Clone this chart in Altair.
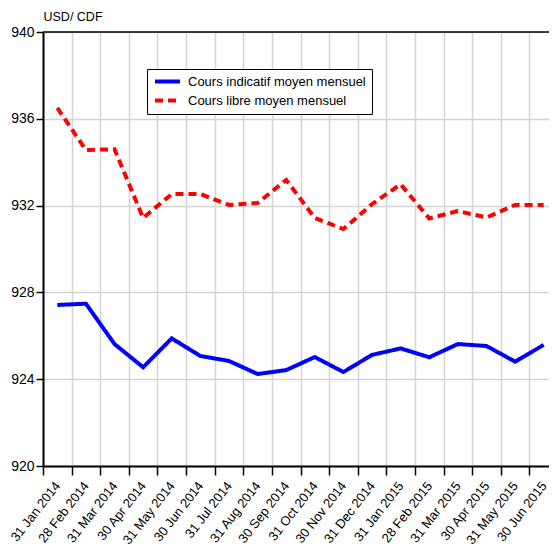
import altair as alt
import pandas as pd

dates = ["31 Jan 2014", "28 Feb 2014", "31 Mar 2014", "30 Apr 2014", "31 May 2014",
         "30 Jun 2014", "31 Jul 2014", "31 Aug 2014", "30 Sep 2014", "31 Oct 2014",
         "30 Nov 2014", "31 Dec 2014", "31 Jan 2015", "28 Feb 2015", "31 Mar 2015",
         "30 Apr 2015", "31 May 2015", "30 Jun 2015"]
indicatif = [927.42, 927.48, 925.62, 924.55, 925.88, 925.07, 924.84, 924.24, 924.42,
             925.02, 924.33, 925.12, 925.42, 925.01, 925.62, 925.53, 924.81, 925.58]
libre = [936.5, 934.56, 934.6, 931.43, 932.53, 932.53, 932.03, 932.12, 933.18,
         931.43, 930.92, 932.07, 932.98, 931.41, 931.75, 931.45, 932.03, 932.03]
series_names = ["Cours indicatif moyen mensuel", "Cours libre moyen mensuel"]
y_ticks = [920, 924, 928, 932, 936, 940]

rows = []
for d, v in zip(dates, indicatif):
    rows.append({"date": d, "series": series_names[0], "value": v})
for d, v in zip(dates, libre):
    rows.append({"date": d, "series": series_names[1], "value": v})
df = pd.DataFrame(rows)

FONT = "Liberation Sans, Arial, sans-serif"

legend_kw = dict(title=None, orient="none", legendX=104, legendY=37,
                 strokeColor="black", fillColor="white", padding=6,
                 symbolType="stroke", symbolSize=625, symbolStrokeWidth=4,
                 clipHeight=13,
                 labelFontSize=13, labelFont=FONT, labelColor="black",
                 labelOffset=6, rowPadding=5, labelLimit=0)

lines = alt.Chart(df).mark_line(strokeWidth=4, strokeCap="butt", strokeJoin="miter").encode(
    x=alt.X("date:N", sort=dates, bandPosition=0.5,
            scale=alt.Scale(type="band", range=[0, 515], paddingInner=0, paddingOuter=0),
            axis=alt.Axis(title=None, tickBand="extent", labelAngle=-52, labelAlign="right",
                          labelBaseline="middle", labelFontSize=13, labelFont=FONT,
                          labelColor="black", labelPadding=8, tickSize=9, tickColor="black",
                          tickWidth=1.5, domainColor="black", domainWidth=2,
                          grid=True, gridColor="#d4d4d4", gridWidth=1.5)),
    y=alt.Y("value:Q", scale=alt.Scale(domain=[920, 940], nice=False, zero=False),
            axis=alt.Axis(title="USD/ CDF", titleAngle=0, titleAlign="left", titleX=0,
                          titleY=-12, titleBaseline="alphabetic", titleFont=FONT,
                          titleFontSize=12.5, titleFontWeight="normal", titleColor="black",
                          values=y_ticks, format="d", labelFontSize=14,
                          labelFont=FONT, labelColor="black", labelPadding=2, tickSize=7,
                          tickColor="black", tickWidth=1.5, domainColor="black",
                          domainWidth=2, grid=True, gridColor="#d4d4d4", gridWidth=1.5)),
    color=alt.Color("series:N", scale=alt.Scale(domain=series_names, range=["#0000ff", "#ff0000"]),
                    legend=alt.Legend(**legend_kw)),
    strokeDash=alt.StrokeDash("series:N", scale=alt.Scale(domain=series_names, range=[[1, 0], [8, 5]]),
                              legend=alt.Legend(**legend_kw)),
)

top_line = alt.Chart(pd.DataFrame({"k": [0]})).mark_rule(color="black", strokeWidth=1.5).encode(
    y=alt.value(0), x=alt.value(0), x2=alt.value(515)
)

chart = alt.layer(lines, top_line).properties(
    width=506, height=434,
    autosize=alt.AutoSizeParams(type="none"),
    padding={"left": 35, "top": 24, "right": 0, "bottom": 82},
).configure_view(stroke=None)

chart.save("out.html", embed_options={"renderer": "svg", "actions": False})
